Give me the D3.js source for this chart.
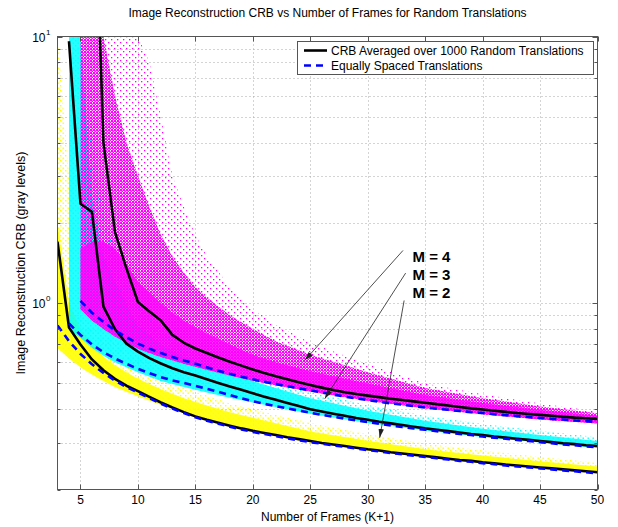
<!DOCTYPE html>
<html><head><meta charset="utf-8">
<script src="https://cdn.jsdelivr.net/npm/d3@7"></script>
<style>body{margin:0;background:#fff}svg{display:block;font-family:"Liberation Sans",Arial,Helvetica,sans-serif}</style>
</head><body><svg id="c" width="618" height="527"></svg>
<script>
// ---------- data ----------
const framesM2 = [3,4,5,6,7,8,9,10,11,12,13,14,15,16,17,18,19,20,21,22,23,24,25,26,27,28,29,30,31,32,33,34,35,36,37,38,39,40,41,42,43,44,45,46,47,48,49,50];
const framesM3 = [4,5,6,7,8,9,10,11,12,13,14,15,16,17,18,19,20,21,22,23,24,25,26,27,28,29,30,31,32,33,34,35,36,37,38,39,40,41,42,43,44,45,46,47,48,49,50];
const framesM4eq = [5,6,7,8,9,10,11,12,13,14,15,16,17,18,19,20,21,22,23,24,25,26,27,28,29,30,31,32,33,34,35,36,37,38,39,40,41,42,43,44,45,46,47,48,49,50];
const framesM4 = [6,7,8,9,10,11,12,13,14,15,16,17,18,19,20,21,22,23,24,25,26,27,28,29,30,31,32,33,34,35,36,37,38,39,40,41,42,43,44,45,46,47,48,49,50];

const avgM2 = [1.70,0.81,0.70,0.615,0.56,0.52,0.49,0.468,0.445,0.424,0.406,0.390,0.376,0.365,0.356,0.347,0.339,0.332,0.326,0.320,0.314,0.309,0.304,0.299,0.295,0.291,0.287,0.283,0.280,0.276,0.273,0.270,0.267,0.264,0.261,0.258,0.256,0.253,0.251,0.248,0.246,0.244,0.242,0.240,0.238,0.236,0.234,0.232];
const eqM2  = [0.825,0.72,0.645,0.59,0.547,0.512,0.484,0.462,0.44,0.42,0.402,0.387,0.373,0.362,0.353,0.344,0.336,0.329,0.323,0.317,0.311,0.306,0.301,0.297,0.293,0.289,0.285,0.281,0.278,0.274,0.271,0.268,0.265,0.262,0.259,0.256,0.254,0.251,0.249,0.246,0.244,0.242,0.240,0.238,0.236,0.234,0.232,0.230];
const avgM3 = [9.6,2.36,2.2,0.97,0.80,0.705,0.658,0.622,0.594,0.570,0.551,0.535,0.518,0.502,0.487,0.473,0.459,0.446,0.434,0.422,0.411,0.400,0.392,0.385,0.378,0.371,0.365,0.359,0.354,0.349,0.344,0.339,0.335,0.331,0.327,0.323,0.320,0.316,0.313,0.310,0.307,0.304,0.301,0.298,0.296,0.293,0.291];
const eqM3  = [0.84,0.76,0.70,0.655,0.62,0.592,0.567,0.546,0.528,0.513,0.502,0.490,0.477,0.465,0.452,0.440,0.429,0.419,0.411,0.403,0.395,0.388,0.381,0.375,0.369,0.363,0.358,0.353,0.348,0.343,0.339,0.335,0.331,0.327,0.323,0.320,0.316,0.313,0.310,0.307,0.304,0.301,0.298,0.295,0.293,0.290,0.288];
const avgM4 = [80,4.0,1.85,1.35,1.01,0.93,0.86,0.76,0.71,0.676,0.650,0.625,0.603,0.583,0.564,0.547,0.532,0.518,0.505,0.493,0.482,0.472,0.463,0.456,0.450,0.444,0.438,0.433,0.428,0.423,0.418,0.413,0.408,0.403,0.399,0.395,0.391,0.387,0.384,0.381,0.378,0.375,0.372,0.370,0.368];
const eqM4  = [1.02,0.92,0.85,0.79,0.745,0.705,0.675,0.65,0.628,0.609,0.593,0.575,0.558,0.543,0.530,0.518,0.507,0.497,0.488,0.479,0.471,0.462,0.454,0.446,0.439,0.433,0.427,0.421,0.416,0.411,0.406,0.402,0.398,0.394,0.390,0.387,0.383,0.380,0.377,0.374,0.371,0.368,0.366,0.363,0.361,0.358];

// spread of the 1000 random-translation trials (envelopes)
const cloudM2X   = [3,4,5,6,7,8,9,10,12,14,16,18,20,25,30,35,40,45,50];
const cloudM2Lo  = [0.68,0.62,0.575,0.54,0.51,0.485,0.465,0.447,0.415,0.39,0.362,0.345,0.328,0.300,0.280,0.264,0.251,0.240,0.230];
const cloudM2Hi  = [2.0,1.0,0.80,0.70,0.63,0.585,0.55,0.52,0.475,0.44,0.413,0.39,0.372,0.33,0.305,0.283,0.268,0.255,0.244];
const cloudM2Top = [10,3.0,1.4,1.0,0.82,0.72,0.64,0.59,0.53,0.48,0.45,0.42,0.40,0.355,0.322,0.297,0.28,0.265,0.252];

const cloudM3X   = [4,5,6,7,8,9,10,12,14,16,18,20,22,25,30,35,40,45,50];
const cloudM3Lo  = [0.80,0.74,0.68,0.635,0.60,0.575,0.55,0.51,0.485,0.462,0.442,0.424,0.408,0.385,0.355,0.333,0.315,0.300,0.286];
const cloudM3Hi  = [10,10,2.5,1.5,1.2,1.0,0.82,0.70,0.63,0.58,0.545,0.51,0.48,0.44,0.395,0.362,0.338,0.32,0.304];
const cloudM3Top = [10,10,4,2.2,1.6,1.25,1.05,0.82,0.72,0.65,0.6,0.56,0.52,0.465,0.415,0.378,0.352,0.332,0.314];

const cloudM4X   = [5,6,7,8,9,10,11,12,13,14,15,16,18,20,22,25,30,35,40,45,50];
const cloudM4Lo  = [0.95,0.86,0.80,0.75,0.71,0.675,0.65,0.628,0.61,0.592,0.577,0.562,0.535,0.512,0.492,0.466,0.43,0.403,0.383,0.366,0.354];
const cloudM4Hi  = [1.6,1.7,1.7,1.6,1.4,1.2,1.1,1.0,0.92,0.86,0.81,0.77,0.70,0.64,0.60,0.555,0.50,0.452,0.422,0.398,0.378];
const cloudM4Mid = [10,10,10,6,4,3,2.3,1.8,1.5,1.3,1.15,1.05,0.9,0.8,0.72,0.64,0.55,0.48,0.44,0.41,0.386];
const cloudM4Top = [10,10,10,10,10,10,8,5,3,2.3,1.8,1.5,1.15,0.95,0.83,0.71,0.59,0.50,0.455,0.42,0.392];

const xTickValues = [5,10,15,20,25,30,35,40,45,50];
const yMajorTicks = [1,10];
const yMinorTicks = [0.2,0.3,0.4,0.5,0.6,0.7,0.8,0.9,2,3,4,5,6,7,8,9];
const yTickExp = ["0","1"];

const legendLabels = ["CRB Averaged over 1000 Random Translations","Equally Spaced Translations"];
const annLabels = ["M = 4","M = 3","M = 2"];
const annTextX = [33.9,33.9,33.9];
const annTextY = [1.424,1.224,1.044];
const annFromX = [33.07,33.3,33.17];
const annFromY = [1.576,1.296,1.023];
const annToX = [24.52,26.26,31.04];
const annToY = [0.610,0.438,0.3124];

// ---------- chart ----------
const svg = d3.select("#c");
const x = d3.scaleLinear().domain([3,50]).range([57.5,597.5]);
const y = d3.scaleLog().domain([0.2,10]).range([489.5,36.5]);
const defs = svg.append("defs");
defs.append("clipPath").attr("id","clip").append("rect")
  .attr("x",x(3)).attr("y",y(10)).attr("width",x(50)-x(3)).attr("height",y(0.2)-y(10));
function pattern(id,color,size,dots){
  const p=defs.append("pattern").attr("id",id).attr("patternUnits","userSpaceOnUse").attr("width",size).attr("height",size);
  dots.forEach(d=>p.append("rect").attr("x",d[0]).attr("y",d[1]).attr("width",d[2]).attr("height",d[2]).attr("fill",color));
}
const colY="#ffff00", colC="#00ffff", colM="#ff00ff";
pattern("spY",colY,5,[[0,0,1.4],[2.5,2.5,1.4]]);
pattern("spC",colC,5,[[0,0,1.4],[2.5,2.5,1.4]]);
pattern("spM",colM,6,[[0,0,1.3],[3,3,1.3]]);
pattern("mdM",colM,3,[[0,0,2.0],[1.5,1.5,1.5]]);

// grid
const grid = svg.append("g").attr("stroke","#a8a8a8").attr("stroke-width",1).attr("stroke-dasharray","1,3");
xTickValues.filter(v=>v<50).forEach(v=>grid.append("line").attr("x1",Math.round(x(v))+0.5).attr("x2",Math.round(x(v))+0.5).attr("y1",y(10)).attr("y2",y(0.2)));
yMajorTicks.concat(yMinorTicks).filter(v=>v>0.2&&v<10).forEach(v=>grid.append("line").attr("y1",Math.round(y(v))+0.5).attr("y2",Math.round(y(v))+0.5).attr("x1",x(3)).attr("x2",x(50)));

const plot = svg.append("g").attr("clip-path","url(#clip)");
function band(X,lo,hi,fill,op){
  const a=d3.area().x((d,i)=>x(X[i])).y0((d,i)=>y(lo[i])).y1((d,i)=>y(hi[i]));
  plot.append("path").attr("d",a(X)).attr("fill",fill).attr("fill-opacity",op);
}
band(cloudM2X,cloudM2Lo,cloudM2Top,"url(#spY)",1);
band(cloudM2X,cloudM2Lo,cloudM2Hi,colY,0.9);
band(cloudM3X,cloudM3Lo,cloudM3Top,"url(#spC)",1);
band(cloudM3X,cloudM3Lo,cloudM3Hi,colC,0.85);
band(cloudM4X,cloudM4Lo,cloudM4Top,"url(#spM)",1);
band(cloudM4X,cloudM4Lo,cloudM4Mid,"url(#mdM)",1);
band(cloudM4X,cloudM4Lo,cloudM4Hi,colM,0.8);

function curve(X,V,color,dash){
  const l=d3.line().x((d,i)=>x(X[i])).y((d,i)=>y(V[i]));
  const p=plot.append("path").attr("d",l(X)).attr("fill","none").attr("stroke",color).attr("stroke-width",2.6).attr("stroke-linejoin","round");
  if(dash) p.attr("stroke-dasharray",dash);
}
curve(framesM2,avgM2,"#000");
curve(framesM3,avgM3,"#000");
curve(framesM4,avgM4,"#000");
curve(framesM2,eqM2,"#0000ff","7,5");
curve(framesM3,eqM3,"#0000ff","7,5");
curve(framesM4eq,eqM4,"#0000ff","7,5");

// frame & ticks
const axc="#555";
svg.append("rect").attr("x",x(3)).attr("y",y(10)).attr("width",x(50)-x(3)).attr("height",y(0.2)-y(10)).attr("fill","none").attr("stroke",axc).attr("stroke-width",1);
const tk=svg.append("g").attr("stroke",axc).attr("stroke-width",1);
xTickValues.forEach(v=>{const px=Math.round(x(v))+0.5;
  tk.append("line").attr("x1",px).attr("x2",px).attr("y1",y(0.2)).attr("y2",y(0.2)-5);
  tk.append("line").attr("x1",px).attr("x2",px).attr("y1",y(10)).attr("y2",y(10)+5);});
yMajorTicks.forEach(v=>{const py=Math.round(y(v))+0.5;
  tk.append("line").attr("x1",x(3)).attr("x2",x(3)+5).attr("y1",py).attr("y2",py);
  tk.append("line").attr("x1",x(50)).attr("x2",x(50)-5).attr("y1",py).attr("y2",py);});
yMinorTicks.forEach(v=>{const py=Math.round(y(v))+0.5;
  tk.append("line").attr("x1",x(3)).attr("x2",x(3)+3).attr("y1",py).attr("y2",py);
  tk.append("line").attr("x1",x(50)).attr("x2",x(50)-3).attr("y1",py).attr("y2",py);});

// tick labels
const txt=svg.append("g").attr("fill","#000").attr("font-size",12);
xTickValues.forEach(v=>txt.append("text").attr("x",x(v)).attr("y",y(0.2)+14).attr("text-anchor","middle").text(v));
yMajorTicks.forEach((v,i)=>{
  txt.append("text").attr("x",x(3)-12).attr("y",y(v)+5).attr("text-anchor","end").text("10");
  txt.append("text").attr("x",x(3)-11.5).attr("y",y(v)-2).attr("font-size",8).text(yTickExp[i]);
});
// labels
svg.append("text").attr("x",(x(3)+x(50))/2).attr("y",17).attr("text-anchor","middle").attr("font-size",12).text("Image Reconstruction CRB vs Number of Frames for Random Translations");
svg.append("text").attr("x",(x(3)+x(50))/2).attr("y",521).attr("text-anchor","middle").attr("font-size",12).text("Number of Frames (K+1)");
svg.append("text").attr("transform",`translate(25,${(y(10)+y(0.2))/2}) rotate(-90)`).attr("text-anchor","middle").attr("font-size",12.5).text("Image Reconstruction CRB (gray levels)");

// legend
const lg=svg.append("g");
lg.append("rect").attr("x",297.5).attr("y",41.5).attr("width",296).attr("height",33).attr("fill","#fff").attr("stroke",axc);
[0,1].forEach(i=>{
  const cy=50.5+i*15;
  const ln=lg.append("line").attr("x1",304).attr("x2",327).attr("y1",cy).attr("y2",cy).attr("stroke-width",2.6).attr("stroke",i? "#0000ff":"#000");
  if(i) ln.attr("stroke-dasharray","7,5");
  lg.append("text").attr("x",331).attr("y",cy+4.3).attr("font-size",12).text(legendLabels[i]);
});

// annotations
defs.append("marker").attr("id","ah").attr("viewBox","0 0 10 6").attr("refX",10).attr("refY",3)
  .attr("markerWidth",9).attr("markerHeight",6).attr("markerUnits","userSpaceOnUse").attr("orient","auto")
  .append("path").attr("d","M0,0L10,3L0,6Z").attr("fill","#222");
annLabels.forEach((t,i)=>{
  svg.append("line").attr("x1",x(annFromX[i])).attr("y1",y(annFromY[i])).attr("x2",x(annToX[i])).attr("y2",y(annToY[i]))
    .attr("stroke","#222").attr("stroke-width",0.8).attr("marker-end","url(#ah)");
  svg.append("text").attr("x",x(annTextX[i])).attr("y",y(annTextY[i])).attr("font-size",15).attr("font-weight","bold").text(t);
});
</script></body></html>
